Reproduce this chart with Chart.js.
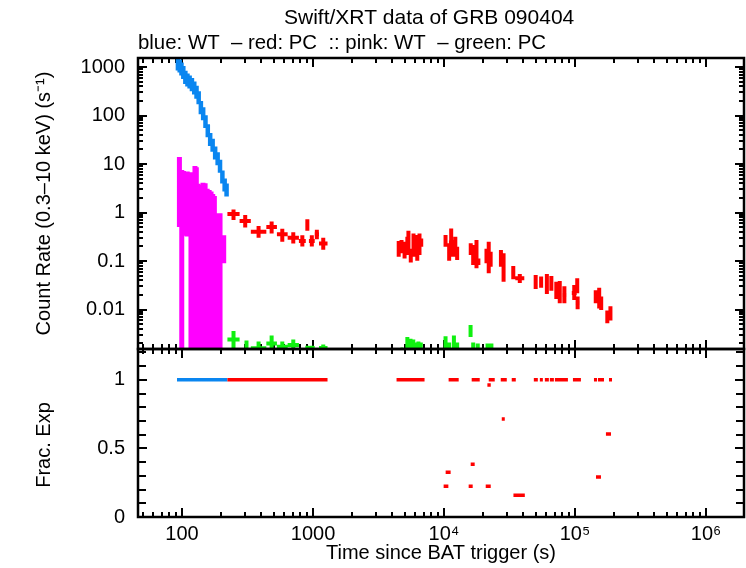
<!DOCTYPE html>
<html>
<head>
<meta charset="utf-8">
<script src="https://cdn.jsdelivr.net/npm/chart.js@4.4.1/dist/chart.umd.min.js"></script>
<style>
  body { margin: 0; background: #fff; }
  #wrap { position: relative; width: 746px; height: 568px; }
  canvas { position: absolute; left: 0; top: 0; }
</style>
</head>
<body>
<div id="wrap">
  <canvas id="rateChart" width="746" height="568"></canvas>
  <canvas id="fracChart" width="746" height="568"></canvas>
</div>
<script>
// blue: WT count rate (bin start / end in s, rate and 1-sigma error in counts/s)
const wtStart = [91.5, 94.5, 97.5, 100.5, 104, 108, 112, 116.5, 121.5, 126.5, 131.5, 136.5, 142, 148, 154, 160.5, 167.5, 175, 183, 191, 199, 207.5, 215.5];
const wtEnd = [94.5, 97.5, 100.5, 104, 108, 112, 116.5, 121.5, 126.5, 131.5, 136.5, 142, 148, 154, 160.5, 167.5, 175, 183, 191, 199, 207.5, 215.5, 222];
const wtRate = [1208, 1099, 953, 808, 640, 566, 514, 455, 387, 316, 243, 152, 114, 78, 51, 33.4, 25.4, 17.7, 13.4, 9.44, 5.66, 3.87, 3.05];
const wtErr = [362, 330, 286, 242, 192, 170, 154, 137, 116, 95, 73, 46, 34, 23, 15.3, 10.0, 7.6, 5.3, 4.0, 2.8, 1.7, 1.16, 0.92];
const wtFrac = [1, 1, 1, 1, 1, 1, 1, 1, 1, 1, 1, 1, 1, 1, 1, 1, 1, 1, 1, 1, 1, 1, 1];

// pink: WT (lower limit 0 = error bar runs off the bottom of the log axis)
const pinkStart = [93, 98, 101, 104, 108, 111, 115, 119, 124, 127, 130, 133, 137, 142, 147, 153, 158, 164, 169, 174, 186, 192, 203];
const pinkEnd = [98, 101, 104, 108, 111, 115, 119, 124, 127, 130, 133, 137, 142, 147, 153, 158, 164, 169, 174, 179, 192, 198, 213];
const pinkRate = [6.0, 4.0, 5.5, 5.2, 5.0, 4.8, 4.0, 4.2, 5.0, 4.5, 2.0, 2.0, 2.1, 2.2, 2.2, 1.6, 1.5, 1.3, 1.2, 1.1, 0.5, 0.5, 0.2];
const pinkLow = [0.5, 0, 0.35, 0.33, 0.32, 0.32, 0, 0, 0, 0, 0, 0, 0, 0, 0, 0, 0, 0, 0, 0, 0, 0, 0.09];
const pinkHigh = [14, 7.5, 7.2, 6.8, 7.0, 6.8, 6.5, 6.8, 9.1, 8.6, 3.9, 3.8, 3.7, 4.1, 4.0, 3.1, 2.9, 2.7, 2.4, 2.2, 0.96, 0.96, 0.34];

// red: PC count rate
const pcStart = [222, 275, 335, 440, 530, 640, 780, 880, 930, 1030, 1110,
  4400, 4620, 4870, 5100, 5200, 5450, 5700, 5950, 6100, 6300, 6500,
  9950, 10600, 10900, 11400, 11800, 12200,
  15500, 16200, 17200, 17700, 20500, 21300, 22100, 26400, 27500,
  32600, 35000, 48500, 53500, 59000, 64000, 70000, 74000, 80000,
  94500, 101000, 101000, 140000, 149000, 154000, 171000, 180000];
const pcEnd = [275, 335, 440, 530, 640, 780, 880, 930, 1030, 1110, 1290,
  4620, 4860, 5130, 5400, 5500, 5700, 6000, 6250, 6400, 6700, 6900,
  10600, 11300, 11800, 12200, 12600, 13000,
  16500, 17200, 18200, 18900, 21700, 22600, 23300, 28000, 29500,
  35000, 41000, 51700, 56800, 63000, 68000, 74000, 79000, 86000,
  103000, 107000, 108500, 148000, 157000, 163000, 182000, 193000];
const pcRate = [0.93, 0.67, 0.40, 0.50, 0.355, 0.30, 0.26, 0.58, 0.26, 0.355, 0.23,
  0.17, 0.20, 0.17, 0.21, 0.28, 0.13, 0.21, 0.24, 0.14, 0.22, 0.24,
  0.26, 0.15, 0.24, 0.18, 0.20, 0.14,
  0.175, 0.13, 0.14, 0.097, 0.127, 0.12, 0.108, 0.113, 0.072,
  0.058, 0.044, 0.037, 0.037, 0.034, 0.035, 0.025, 0.023, 0.020,
  0.022, 0.031, 0.0137, 0.018, 0.017, 0.0135, 0.0070, 0.0083];
const pcLow = [0.70, 0.49, 0.30, 0.37, 0.25, 0.23, 0.20, 0.42, 0.20, 0.28, 0.17,
  0.123, 0.144, 0.113, 0.133, 0.18, 0.093, 0.123, 0.169, 0.101, 0.133, 0.197,
  0.197, 0.101, 0.123, 0.123, 0.133, 0.105,
  0.133, 0.083, 0.071, 0.083, 0.09, 0.056, 0.076, 0.076, 0.0375,
  0.042, 0.035, 0.0265, 0.028, 0.021, 0.0245, 0.0164, 0.0134, 0.0134,
  0.0157, 0.0217, 0.0101, 0.0134, 0.0105, 0.0098, 0.0052, 0.0059];
const pcHigh = [1.16, 0.89, 0.53, 0.65, 0.46, 0.39, 0.34, 0.73, 0.34, 0.44, 0.30,
  0.26, 0.27, 0.25, 0.317, 0.42, 0.18, 0.37, 0.344, 0.197, 0.37, 0.29,
  0.344, 0.232, 0.47, 0.27, 0.317, 0.197,
  0.232, 0.214, 0.27, 0.113, 0.18, 0.25, 0.155, 0.169, 0.145,
  0.079, 0.054, 0.0516, 0.048, 0.054, 0.049, 0.0375, 0.0385, 0.030,
  0.032, 0.044, 0.0185, 0.025, 0.028, 0.0185, 0.0095, 0.0117];

// green: PC (mostly upper part of error bars only)
const greenStart = [222, 303, 335, 440, 530, 640, 880, 930, 1110,
  4650, 5100, 5400, 5700, 5900, 6250, 6500,
  9950, 10600, 11600, 12200, 15500, 16400, 17600, 21000, 22500];
const greenEnd = [275, 318, 440, 530, 640, 780, 930, 1030, 1290,
  4900, 5400, 5700, 5950, 6200, 6500, 6800,
  10600, 11300, 12200, 13000, 16400, 17000, 18600, 22000, 23500];
const greenRate = [0.0024, 0.0017, 0.00159, 0.0020, 0.0017, 0.00186, 0.0016, 0.0016, 0.0016,
  0.0015, 0.0018, 0.0017, 0.0017, 0.0016, 0.0016, 0.0016,
  0.0019, 0.0016, 0.0019, 0.0016, 0.0036, 0.0016, 0.0016, 0.0016, 0.0016];
const greenLow = [0, 0, 0, 0, 0, 0, 0, 0, 0,
  0, 0, 0, 0, 0, 0, 0,
  0, 0, 0, 0, 0.0027, 0, 0, 0, 0];
const greenHigh = [0.0036, 0.0023, 0.0022, 0.0029, 0.0022, 0.0024, 0.00178, 0.0018, 0.0019,
  0.0016, 0.0027, 0.0025, 0.0024, 0.0021, 0.0022, 0.0021,
  0.0028, 0.0021, 0.0029, 0.0021, 0.0048, 0.0021, 0.0020, 0.0020, 0.0020];

// red: PC fractional exposure
const fracStart = [222, 275, 335, 440, 530, 640, 780, 880, 1030,
  4340, 10840, 16260, 21940, 27100, 32870, 48480, 53900, 58850, 64270, 70200, 96400, 139500, 149600, 181700,
  21430, 27590, 172200, 15980, 10290, 9930, 15420, 20810, 33880, 144600];
const fracEnd = [275, 335, 440, 530, 640, 780, 880, 1030, 1290,
  7100, 12940, 18730, 24380, 30130, 35300, 52000, 56800, 63130, 68960, 88250, 110900, 147100, 166400, 191600,
  22730, 29090, 188200, 17140, 11230, 10790, 16550, 22730, 41370, 157800];
const fracValue = [1, 1, 1, 1, 1, 1, 1, 1, 1,
  1, 1, 1, 1, 1, 1, 1, 1, 1, 1, 1, 1, 1, 1, 1,
  0.963, 0.714, 0.606, 0.385, 0.327, 0.225, 0.225, 0.225, 0.159, 0.291];

// axes
const timeMin = 46.1, timeMax = 1.95e6;
const rateMin = 0.001534, rateMax = 1533;
const fracMin = 0, fracMax = 1.225;
const timeTicks = [100, 1000, 1e4, 1e5, 1e6];
const timeLabels = ['100', '1000', '10\u2074', '10\u2075', '10\u2076'];
const rateTicks = [0.01, 0.1, 1, 10, 100, 1000];
const rateLabels = ['0.01', '0.1', '1', '10', '100', '1000'];
const fracTicks = [0, 0.5, 1];
const fracLabels = ['0', '0.5', '1'];

const FONT = '"Liberation Sans", Arial, sans-serif';
Chart.defaults.font.family = FONT;
Chart.defaults.font.size = 20;
Chart.defaults.color = '#000';

function errorBars(start, end, rate, low, high, floor) {
  const pts = [];
  start.forEach((t0, i) => {
    const mid = Math.sqrt(t0 * end[i]);
    const lo = low[i] > 0 ? low[i] : floor;
    pts.push({x: t0, y: rate[i]}, {x: end[i], y: rate[i]}, {x: mid, y: null});
    pts.push({x: mid, y: lo}, {x: mid, y: high[i]}, {x: mid, y: null});
  });
  return pts;
}

function segments(start, end, value) {
  const pts = [];
  start.forEach((t0, i) => {
    pts.push({x: t0, y: value[i]}, {x: end[i], y: value[i]}, {x: end[i], y: null});
  });
  return pts;
}

function series(data, color, width) {
  return {
    data: data,
    borderColor: color,
    borderWidth: width,
    pointRadius: 0,
    tension: 0,
    fill: false,
    spanGaps: false,
    clip: 0
  };
}

function logTicks(min, max) {
  const out = [];
  for (let e = Math.floor(Math.log10(min)); e <= Math.ceil(Math.log10(max)); e++) {
    for (let m = 1; m < 10; m++) {
      const v = m * Math.pow(10, e);
      if (v >= min && v <= max) out.push({value: v});
    }
  }
  return out;
}

function linTicks(step, max) {
  const out = [];
  for (let k = 0; k * step <= max + 1e-9; k++) out.push({value: k * step});
  return out;
}

function sameValue(a, b) {
  return Math.abs(a - b) <= 1e-6 * Math.abs(b) + 1e-12;
}

function tickLabel(v, ticks, labels) {
  const i = ticks.findIndex(t => sameValue(v, t));
  return i >= 0 ? labels[i] : '';
}

// inward gnuplot-style ticks on all four sides plus the border
const frame = {
  id: 'frame',
  beforeDatasetsDraw(chart, args, opts) {
    const {ctx, chartArea: a} = chart;
    ctx.save();
    ctx.strokeStyle = '#000';
    ctx.lineWidth = 2;
    ['x', 'y'].forEach(id => {
      const s = chart.scales[id];
      s.ticks.forEach(t => {
        const major = opts[id].some(v => sameValue(t.value, v));
        const len = major ? opts.major : opts.minor[id];
        const p = Math.round(s.getPixelForValue(t.value));
        ctx.beginPath();
        if (id === 'x') {
          ctx.moveTo(p, a.top); ctx.lineTo(p, a.top + len);
          ctx.moveTo(p, a.bottom); ctx.lineTo(p, a.bottom - len);
        } else {
          ctx.moveTo(a.left, p); ctx.lineTo(a.left + len, p);
          ctx.moveTo(a.right, p); ctx.lineTo(a.right - len, p);
        }
        ctx.stroke();
      });
    });
    ctx.restore();
  },
  afterDatasetsDraw(chart) {
    const {ctx, chartArea: a} = chart;
    ctx.save();
    ctx.strokeStyle = '#000';
    ctx.lineWidth = 2.5;
    ctx.strokeRect(a.left, a.top, a.right - a.left, a.bottom - a.top);
    ctx.restore();
  }
};

const header = {
  id: 'header',
  afterDraw(chart) {
    const ctx = chart.ctx;
    ctx.save();
    ctx.fillStyle = '#000';
    ctx.textBaseline = 'middle';
    ctx.font = '21px ' + FONT;
    ctx.fillText('Swift/XRT data of GRB 090404', 284, 18);
    ctx.font = '20.4px ' + FONT;
    ctx.fillText('blue: WT  \u2013 red: PC  :: pink: WT  \u2013 green: PC', 138, 43);
    ctx.restore();
  }
};

// y label of the lower panel, placed as in the reference
const fracLabel = {
  id: 'fracLabel',
  afterDraw(chart) {
    const ctx = chart.ctx;
    ctx.save();
    ctx.fillStyle = '#000';
    ctx.font = '20px ' + FONT;
    ctx.textAlign = 'center';
    ctx.textBaseline = 'middle';
    ctx.translate(44, 445);
    ctx.rotate(-Math.PI / 2);
    ctx.fillText('Frac. Exp', 0, 0);
    ctx.restore();
  }
};

const noGrid = {display: false, drawTicks: false};

new Chart(document.getElementById('rateChart'), {
  type: 'line',
  data: {
    datasets: [
      series(errorBars(pcStart, pcEnd, pcRate, pcLow, pcHigh, 1e-5), '#ff0000', 4),
      series(errorBars(greenStart, greenEnd, greenRate, greenLow, greenHigh, 1e-5), '#10f010', 4),
      series(errorBars(wtStart, wtEnd, wtRate,
        wtRate.map((r, i) => r - wtErr[i]), wtRate.map((r, i) => r + wtErr[i]), 1e-5), '#0a86f0', 4.5),
      series(errorBars(pinkStart, pinkEnd, pinkRate, pinkLow, pinkHigh, 1e-5), '#ff00ff', 5)
    ]
  },
  options: {
    responsive: false,
    animation: false,
    devicePixelRatio: 1,
    layout: {padding: {top: 58, right: 2, left: 0, bottom: 0}},
    plugins: {
      legend: {display: false},
      tooltip: {enabled: false},
      frame: {x: timeTicks, y: rateTicks, major: 9, minor: {x: 5, y: 5}}
    },
    scales: {
      x: {
        type: 'logarithmic', min: timeMin, max: timeMax,
        grid: noGrid, border: {display: false},
        ticks: {display: false, autoSkip: false},
        afterBuildTicks: s => { s.ticks = logTicks(timeMin, timeMax); },
        afterFit: s => { s.height = 219; }
      },
      y: {
        type: 'logarithmic', min: rateMin, max: rateMax,
        grid: noGrid, border: {display: false},
        ticks: {padding: 13, autoSkip: false, callback: v => tickLabel(v, rateTicks, rateLabels)},
        afterBuildTicks: s => { s.ticks = logTicks(rateMin, rateMax); },
        afterFit: s => { s.width = 138; },
        title: {display: true, text: 'Count Rate (0.3\u201310 keV) (s\u207B\u00B9)', padding: {top: 32, bottom: 0}}
      }
    }
  },
  plugins: [frame, header]
});

new Chart(document.getElementById('fracChart'), {
  type: 'line',
  data: {
    datasets: [
      series(segments(fracStart, fracEnd, fracValue), '#ff0000', 3.5),
      series(segments(wtStart, wtEnd, wtFrac), '#0a86f0', 3.5)
    ]
  },
  options: {
    responsive: false,
    animation: false,
    devicePixelRatio: 1,
    layout: {padding: {top: 349, right: 2, left: 0, bottom: 0}},
    plugins: {
      legend: {display: false},
      tooltip: {enabled: false},
      frame: {x: timeTicks, y: fracTicks, major: 9, minor: {x: 5, y: 8}}
    },
    scales: {
      x: {
        type: 'logarithmic', min: timeMin, max: timeMax,
        grid: noGrid, border: {display: false},
        ticks: {padding: 5, autoSkip: false, maxRotation: 0, callback: v => tickLabel(v, timeTicks, timeLabels)},
        afterBuildTicks: s => { s.ticks = logTicks(timeMin, timeMax); },
        afterFit: s => { s.height = 51; },
        title: {display: true, text: 'Time since BAT trigger (s)', padding: {top: 0, bottom: 3}}
      },
      y: {
        type: 'linear', min: fracMin, max: fracMax,
        grid: noGrid, border: {display: false},
        ticks: {padding: 13, autoSkip: false, callback: v => tickLabel(v, fracTicks, fracLabels)},
        afterBuildTicks: s => { s.ticks = linTicks(0.1, fracMax); },
        afterFit: s => { s.width = 138; }
      }
    }
  },
  plugins: [frame, fracLabel]
});
</script>
</body>
</html>
